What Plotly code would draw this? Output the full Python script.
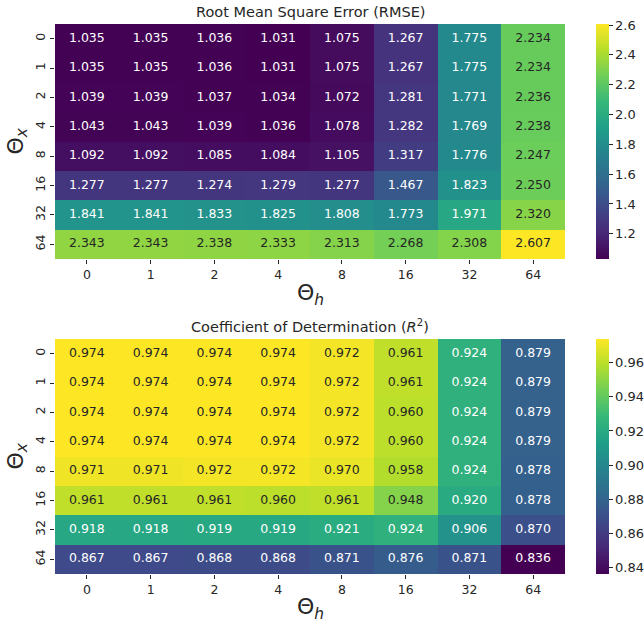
import plotly.graph_objects as go
import plotly.colors as pc

theta_h = ["0", "1", "2", "4", "8", "16", "32", "64"]
theta_x = ["0", "1", "2", "4", "8", "16", "32", "64"]

rmse = [
    [1.035, 1.035, 1.036, 1.031, 1.075, 1.267, 1.775, 2.234],
    [1.035, 1.035, 1.036, 1.031, 1.075, 1.267, 1.775, 2.234],
    [1.039, 1.039, 1.037, 1.034, 1.072, 1.281, 1.771, 2.236],
    [1.043, 1.043, 1.039, 1.036, 1.078, 1.282, 1.769, 2.238],
    [1.092, 1.092, 1.085, 1.084, 1.105, 1.317, 1.776, 2.247],
    [1.277, 1.277, 1.274, 1.279, 1.277, 1.467, 1.823, 2.250],
    [1.841, 1.841, 1.833, 1.825, 1.808, 1.773, 1.971, 2.320],
    [2.343, 2.343, 2.338, 2.333, 2.313, 2.268, 2.308, 2.607],
]

r2 = [
    [0.974, 0.974, 0.974, 0.974, 0.972, 0.961, 0.924, 0.879],
    [0.974, 0.974, 0.974, 0.974, 0.972, 0.961, 0.924, 0.879],
    [0.974, 0.974, 0.974, 0.974, 0.972, 0.960, 0.924, 0.879],
    [0.974, 0.974, 0.974, 0.974, 0.972, 0.960, 0.924, 0.879],
    [0.971, 0.971, 0.972, 0.972, 0.970, 0.958, 0.924, 0.878],
    [0.961, 0.961, 0.961, 0.960, 0.961, 0.948, 0.920, 0.878],
    [0.918, 0.918, 0.919, 0.919, 0.921, 0.924, 0.906, 0.870],
    [0.867, 0.867, 0.868, 0.868, 0.871, 0.876, 0.871, 0.836],
]

rmse_ticks = [1.2, 1.4, 1.6, 1.8, 2.0, 2.2, 2.4, 2.6]
r2_ticks = [0.84, 0.86, 0.88, 0.90, 0.92, 0.94, 0.96]

FONT = "DejaVu Sans"
W, H = 644, 628
ML, MR, MT, MB = 55, 79, 24, 54
PW, PH = W - ML - MR, H - MT - MB
viridis = pc.sequential.Viridis


def viridis_rgb(t):
    t = min(max(t, 0.0), 1.0)
    n = len(viridis) - 1
    pos = t * n
    i = min(int(pos), n - 1)
    f = pos - i
    c0 = pc.hex_to_rgb(viridis[i])
    c1 = pc.hex_to_rgb(viridis[i + 1])
    return [(c0[k] + (c1[k] - c0[k]) * f) / 255.0 for k in range(3)]


def lum(rgb):
    out = []
    for c in rgb:
        out.append(c / 12.92 if c <= 0.03928 else ((c + 0.055) / 1.055) ** 2.4)
    return 0.2126 * out[0] + 0.7152 * out[1] + 0.0722 * out[2]


def text_colors(z):
    lo = min(min(r) for r in z)
    hi = max(max(r) for r in z)
    cols = []
    for row in z:
        for v in row:
            L = lum(viridis_rgb((v - lo) / (hi - lo)))
            cols.append("#262626" if L > 0.408 else "white")
    return cols


def px_x(p):
    return (p - ML) / PW


def px_y(p):
    return (H - MB - p) / PH


x_dom = [px_x(55), px_x(565)]
top_dom = [px_y(259), px_y(24)]
bot_dom = [px_y(574), px_y(339)]

fig = go.Figure()

panels = [
    (rmse, rmse_ticks, top_dom, "x", "y", "{:.1f}"),
    (r2, r2_ticks, bot_dom, "x2", "y2", "{:.2f}"),
]

for z, cticks, dom, xa, ya, tfmt in panels:
    fig.add_trace(go.Heatmap(
        z=z, x=theta_h, y=theta_x, colorscale="Viridis",
        xaxis=xa, yaxis=ya, xgap=0, ygap=0, hoverinfo="skip",
        colorbar=dict(
            x=px_x(596), xanchor="left", xpad=0, ypad=0, thickness=13,
            y=dom[1], yanchor="top", len=dom[1] - dom[0], lenmode="fraction",
            outlinewidth=0, ticks="outside", ticklen=4, tickwidth=1,
            tickcolor="#262626", tickvals=cticks,
            ticktext=[tfmt.format(t) for t in cticks],
            tickfont=dict(family=FONT, size=13, color="#262626"),
        ),
    ))
    xs, ys, txt = [], [], []
    for i, row in enumerate(z):
        for j, v in enumerate(row):
            xs.append(theta_h[j])
            ys.append(theta_x[i])
            txt.append("{:.3f}".format(v))
    fig.add_trace(go.Scatter(
        x=xs, y=ys, text=txt, mode="text", xaxis=xa, yaxis=ya,
        textfont=dict(family=FONT, size=12.5, color=text_colors(z)),
        hoverinfo="skip", showlegend=False,
    ))

axis_common = dict(
    type="category", showgrid=False, zeroline=False, showline=False,
    ticks="outside", ticklen=4, tickwidth=1, tickcolor="#262626",
    tickfont=dict(family=FONT, size=12.5, color="#262626"),
    automargin=False,
)

fig.update_layout(
    width=W, height=H,
    margin=dict(l=ML, r=MR, t=MT, b=MB, autoexpand=False),
    paper_bgcolor="white", plot_bgcolor="white",
    showlegend=False,
    xaxis=dict(domain=x_dom, anchor="y", **axis_common),
    yaxis=dict(domain=top_dom, anchor="x", autorange="reversed",
               tickangle=-90, **axis_common),
    xaxis2=dict(domain=x_dom, anchor="y2", **axis_common),
    yaxis2=dict(domain=bot_dom, anchor="x2", autorange="reversed",
                tickangle=-90, **axis_common),
)

ann = []
ann.append(dict(text="Root Mean Square Error (RMSE)", x=(x_dom[0] + x_dom[1]) / 2,
                y=px_y(12), xref="paper", yref="paper", showarrow=False,
                font=dict(family=FONT, size=14.5, color="#262626"),
                xanchor="center", yanchor="middle"))
ann.append(dict(text="Coefficient of Determination (<i>R</i><sup>2</sup>)",
                x=(x_dom[0] + x_dom[1]) / 2,
                y=px_y(326), xref="paper", yref="paper", showarrow=False,
                font=dict(family=FONT, size=14.5, color="#262626"),
                xanchor="center", yanchor="middle"))
for yc in [(24 + 259) / 2, (339 + 574) / 2]:
    ann.append(dict(text="Θ<sub><i>x</i></sub>", x=px_x(17), y=px_y(yc),
                    xref="paper", yref="paper", showarrow=False, textangle=-90,
                    font=dict(family=FONT, size=22, color="#262626"),
                    xanchor="center", yanchor="middle"))
for yc in [294, 608]:
    ann.append(dict(text="Θ<sub><i>h</i></sub>", x=(x_dom[0] + x_dom[1]) / 2,
                    y=px_y(yc), xref="paper", yref="paper", showarrow=False,
                    font=dict(family=FONT, size=22, color="#262626"),
                    xanchor="center", yanchor="middle"))
fig.update_layout(annotations=ann)

fig.write_html(
    "out.html",
    config={"displayModeBar": False},
    post_script="document.body.style.margin='0';document.body.style.overflow='hidden';",
)
